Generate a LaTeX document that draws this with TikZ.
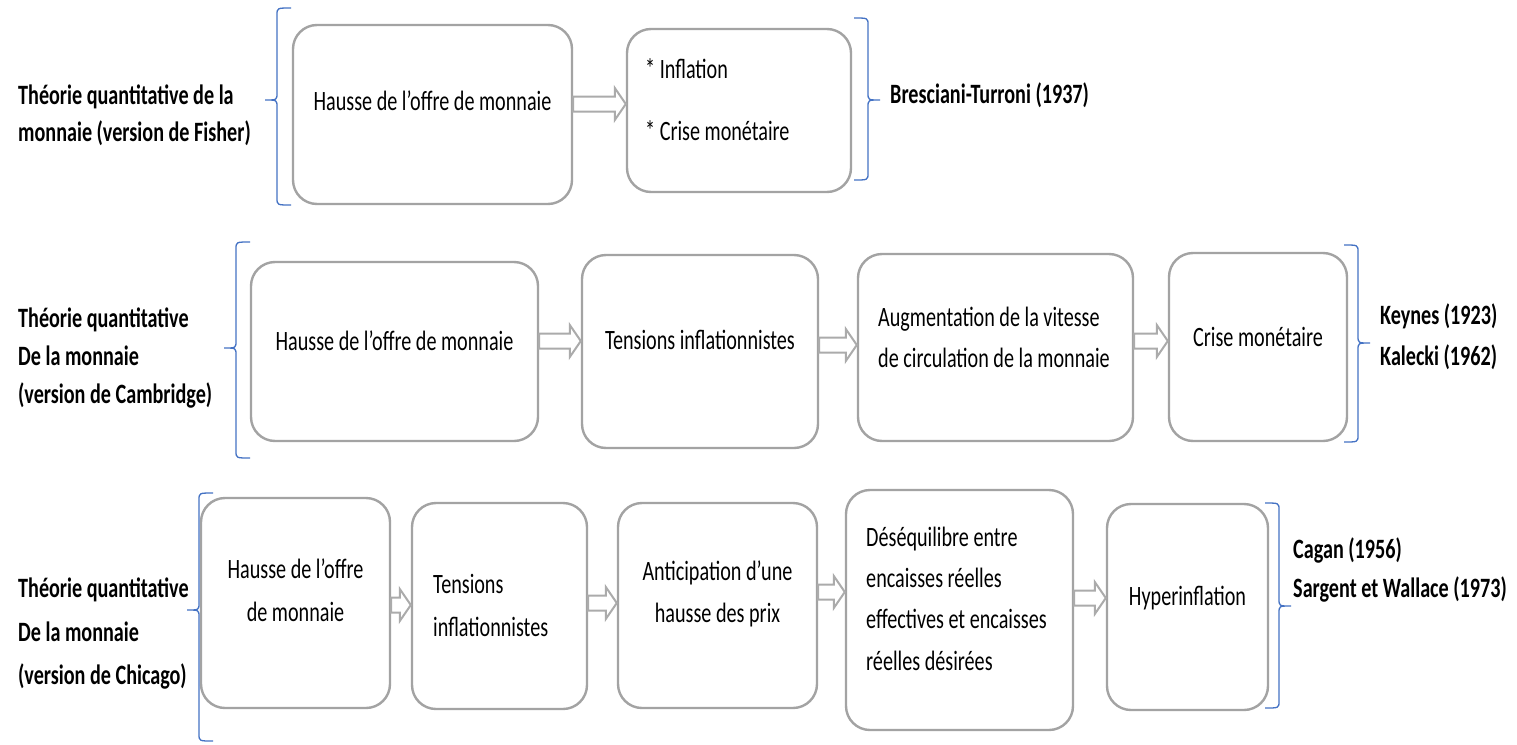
\documentclass[tikz,border=0pt]{standalone}
\usepackage{fontspec}
\setmainfont{Carlito}[FakeStretch=0.72]
\usetikzlibrary{calc}
\definecolor{boxgray}{HTML}{A3A3A3}
\definecolor{arrgray}{HTML}{ABABAB}
\definecolor{braceblue}{HTML}{4472C4}
\tikzset{
  box/.style={draw=boxgray, line width=2.4pt, rounded corners=24pt, fill=white, inner sep=0pt},
  txt/.style={inner sep=0pt, font=\fontsize{28}{34}\selectfont, text=black},
  lbl/.style={inner sep=0pt, font=\fontsize{28}{34}\selectfont\bfseries, text=black},
  brc/.style={draw=braceblue, line width=1.3pt},
  barr/.style={draw=arrgray, line width=2pt, fill=white, line join=miter},
}
% block arrow from the east side of node #1 to the west side of node #2 at height #3
\newcommand\blockarrow[3]{%
  \path let \p1=(#1.east), \p2=(#2.west) in
   [barr] (\x1,{#3pt+7.5pt}) -- ({\x2-11pt},{#3pt+7.5pt}) -- ({\x2-11pt},{#3pt+16pt})
   -- (\x2,{#3pt}) -- ({\x2-11pt},{#3pt-16pt}) -- ({\x2-11pt},{#3pt-7.5pt})
   -- (\x1,{#3pt-7.5pt}) -- cycle;}
% brace: line x, top y, bottom y, tip y, side (1 = left brace, -1 = right brace)
\newcommand\drawbrace[5]{%
  \draw[brc] ({#1+#5*14},#2) .. controls (#1,#2) .. (#1,{#2-7})
   -- (#1,{#4+7}) .. controls (#1,#4) .. ({#1-#5*12},#4)
   .. controls (#1,#4) .. (#1,{#4-7})
   -- (#1,{#3+7}) .. controls (#1,#3) .. ({#1+#5*14},#3);}
\begin{document}
\begin{tikzpicture}[x=1pt,y=1pt]
\fill[white] (0,0) rectangle (1517,-744);
\useasboundingbox (0,0) rectangle (1517,-744);

% ---------- boxes ----------
\node[box, minimum width=279pt, minimum height=179pt] (B11) at (432.5,-114.5) {};
\node[box, minimum width=224pt, minimum height=163pt] (B12) at (739,-110.5) {};

\node[box, minimum width=287pt, minimum height=179pt] (B21) at (394.5,-351.5) {};
\node[box, minimum width=236pt, minimum height=193pt] (B22) at (700,-351.5) {};
\node[box, minimum width=275pt, minimum height=187pt] (B23) at (995.5,-347.5) {};
\node[box, minimum width=178pt, minimum height=188pt] (B24) at (1258,-347) {};

\node[box, minimum width=189pt, minimum height=210pt] (B31) at (295.5,-603) {};
\node[box, minimum width=175pt, minimum height=206pt] (B32) at (499.5,-606) {};
\node[box, minimum width=199pt, minimum height=205pt] (B33) at (717.5,-605.5) {};
\node[box, minimum width=227pt, minimum height=240pt] (B34) at (959.5,-610) {};
\node[box, minimum width=161pt, minimum height=206pt] (B35) at (1187.5,-607) {};

% ---------- arrows ----------
\blockarrow{B11}{B12}{-104}
\blockarrow{B21}{B22}{-341}
\blockarrow{B22}{B23}{-345}
\blockarrow{B23}{B24}{-341}
\blockarrow{B31}{B32}{-605}
\blockarrow{B32}{B33}{-603}
\blockarrow{B33}{B34}{-592}
\blockarrow{B34}{B35}{-598}

% ---------- braces ----------
\drawbrace{277}{-8}{-205}{-100}{1}
\drawbrace{868}{-18}{-180}{-100}{-1}
\drawbrace{236}{-242}{-458}{-348}{1}
\drawbrace{1358}{-245}{-442}{-343}{-1}
\drawbrace{199}{-493}{-741}{-610}{1}
\drawbrace{1279}{-503}{-708}{-606}{-1}

% ---------- row 1 texts ----------
\node[lbl, anchor=base west] (L1a) at (18,-104) {Théorie quantitative de la};
\node[lbl, anchor=base west] (L1b) at (18,-141) {monnaie (version de Fisher)};
\node[txt, anchor=base] (T11) at (432.5,-110) {Hausse de l’offre de monnaie};
\node[txt, anchor=base west] (T12a) at (645,-78) {* Inflation};
\node[txt, anchor=base west] (T12b) at (645,-140) {* Crise monétaire};
\node[lbl, anchor=base west] (R1) at (890,-103) {Bresciani-Turroni (1937)};

% ---------- row 2 texts ----------
\node[lbl, anchor=base west] (L2a) at (18,-327) {Théorie quantitative};
\node[lbl, anchor=base west] (L2b) at (18,-365) {De la monnaie};
\node[lbl, anchor=base west] (L2c) at (18,-403) {(version de Cambridge)};
\node[txt, anchor=base] (T21) at (394.5,-350) {Hausse de l’offre de monnaie};
\node[txt, anchor=base] (T22) at (700,-349) {Tensions inflationnistes};
\node[txt, anchor=base west] (T23a) at (878,-326) {Augmentation de la vitesse};
\node[txt, anchor=base west] (T23b) at (878,-367) {de circulation de la monnaie};
\node[txt, anchor=base] (T24) at (1258,-346) {Crise monétaire};
\node[lbl, anchor=base west] (R2a) at (1380,-324) {Keynes (1923)};
\node[lbl, anchor=base west] (R2b) at (1380,-365) {Kalecki (1962)};

% ---------- row 3 texts ----------
\node[lbl, anchor=base west] (L3a) at (18,-597) {Théorie quantitative};
\node[lbl, anchor=base west] (L3b) at (18,-641) {De la monnaie};
\node[lbl, anchor=base west] (L3c) at (18,-684) {(version de Chicago)};
\node[txt, anchor=base] (T31a) at (295.5,-578) {Hausse de l’offre};
\node[txt, anchor=base] (T31b) at (295.5,-621) {de monnaie};
\node[txt, anchor=base west] (T32a) at (433,-593) {Tensions};
\node[txt, anchor=base west] (T32b) at (433,-636) {inflationnistes};
\node[txt, anchor=base] (T33a) at (717.5,-580) {Anticipation d’une};
\node[txt, anchor=base] (T33b) at (717.5,-622) {hausse des prix};
\node[txt, anchor=base west] (T34a) at (866,-546) {Déséquilibre entre};
\node[txt, anchor=base west] (T34b) at (866,-587) {encaisses réelles};
\node[txt, anchor=base west] (T34c) at (866,-628) {effectives et encaisses};
\node[txt, anchor=base west] (T34d) at (866,-670) {réelles désirées};
\node[txt, anchor=base] (T35) at (1187.5,-605) {Hyperinflation};
\node[lbl, anchor=base west] (R3a) at (1293,-558) {Cagan (1956)};
\node[lbl, anchor=base west] (R3b) at (1293,-597) {Sargent et Wallace (1973)};
\end{tikzpicture}
\end{document}
